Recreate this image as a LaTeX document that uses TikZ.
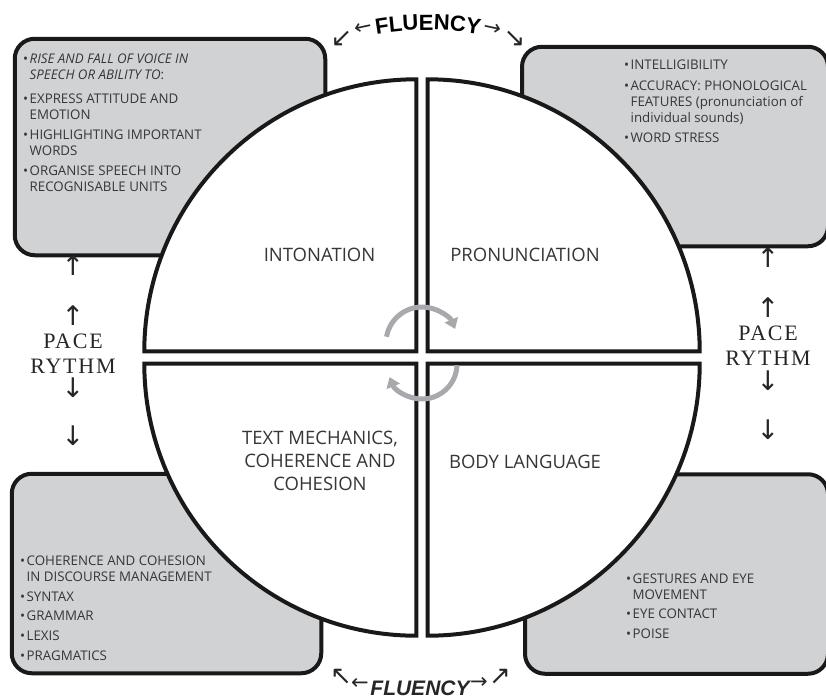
\documentclass[tikz,border=0pt]{standalone}
\usepackage{fontspec}
\setmainfont{Open Sans}
\newfontfamily\pacefont[LetterSpace=8]{Liberation Serif}
\newfontfamily\flufont{Liberation Sans}
\newfontfamily\arrfont{DejaVu Sans}
\usetikzlibrary{positioning,decorations.text,arrows.meta}
\definecolor{boxgray}{HTML}{D1D2D4}
\definecolor{arcgray}{HTML}{A7A9AC}
\definecolor{txt}{HTML}{363636}
\newcommand{\bul}{\textbullet\hspace{1.5pt}}
\newcommand{\ind}{\phantom{\textbullet}\hspace{1.5pt}}

\begin{document}
\begin{tikzpicture}[x=1pt,y=-1pt,
    infobox/.style={draw=black!90,line width=4pt,fill=boxgray,rounded corners=20pt,inner sep=0pt},
    quarter/.style={draw=black!90,line width=4pt,fill=white},
    quadlabel/.style={text=txt,font=\fontsize{18.5}{23}\selectfont,align=center,anchor=base},
    items/.style={text=txt,font=\fontsize{13.3}{16}\selectfont,align=left,anchor=base west,inner sep=0pt},
    pace/.style={text=black!85,font=\pacefont\fontsize{22}{25}\selectfont,align=center,anchor=base},
    updown/.style={text=black!85,font=\arrfont\fontsize{27}{27}\selectfont,inner sep=0pt},
    fluarrow/.style={text=black!85,font=\arrfont\fontsize{21}{21}\selectfont,inner sep=0pt},
    diagarrow/.style={text=black!85,font=\arrfont\fontsize{26}{26}\selectfont,inner sep=0pt},
    arcarrow/.style={draw=arcgray,line width=5pt,-{Triangle[width=14pt,length=10pt]}}]

  \useasboundingbox (0,0) rectangle (826,699);

  \node[infobox,minimum width=310.5pt,minimum height=216.5pt] (intobox) at (170,147) {};
  \node[infobox,minimum width=306pt,minimum height=199.5pt] (pronbox) at (675,146.5) {};
  \node[infobox,minimum width=309.5pt,minimum height=199.5pt] (mechbox) at (166.5,573.5) {};
  \node[infobox,minimum width=303pt,minimum height=199.5pt] (bodybox) at (676.5,574) {};

  \filldraw[quarter] (416.3,351.3) -- (144.3,351.3) arc (180:270:272) -- cycle;
  \filldraw[quarter] (427.7,351.3) -- (427.7,79.3) arc (270:360:272) -- cycle;
  \filldraw[quarter] (416.3,363.7) -- (144.3,363.7) arc (180:90:272) -- cycle;
  \filldraw[quarter] (427.7,363.7) -- (699.7,363.7) arc (0:90:272) -- cycle;

  \draw[arcarrow] (422,343) ++(190:36) arc (190:337:36);
  \draw[arcarrow] (422,364) ++(2:35) arc (2:158:35);

  \node[quadlabel] (intonation) at (319.5,261) {INTONATION};
  \node[quadlabel] (pronunciation) at (525,261) {PRONUNCIATION};
  \node[quadlabel] (mechanics) at (320,490) {TEXT MECHANICS,\\COHERENCE AND\\COHESION};
  \node[quadlabel] (body) at (525,468) {BODY LANGUAGE};

  \node[items] (intoitems) at (23,191) {\bul\textit{RISE AND FALL OF VOICE IN}\\
    \ind\textit{SPEECH OR ABILITY TO}:\\[8pt]
    \bul EXPRESS ATTITUDE AND\\
    \ind EMOTION\\[4pt]
    \bul HIGHLIGHTING IMPORTANT\\
    \ind WORDS\\[4pt]
    \bul ORGANISE SPEECH INTO\\
    \ind RECOGNISABLE UNITS};
  \node[items] (pronitems) at (624,142) {\bul INTELLIGIBILITY\\[5pt]
    \bul ACCURACY: PHONOLOGICAL\\
    \ind FEATURES (pronunciation of\\
    \ind individual sounds)\\[4pt]
    \bul WORD STRESS};
  \node[items] (mechitems) at (20,660) {\bul COHERENCE AND COHESION\\
    \ind IN DISCOURSE MANAGEMENT\\[4pt]
    \bul SYNTAX\\[3pt]
    \bul GRAMMAR\\[4pt]
    \bul LEXIS\\[4pt]
    \bul PRAGMATICS};
  \node[items] (bodyitems) at (626,638) {\bul GESTURES AND EYE\\
    \ind MOVEMENT\\[3pt]
    \bul EYE CONTACT\\[4pt]
    \bul POISE};

  \node[pace] (paceleft) at (73,373) {PACE\\RYTHM};
  \node[pace] (paceright) at (768,365) {PACE\\RYTHM};
  \node[updown] (upleftA) at (73,266) {↑};
  \node[updown] (upleftB) at (73,316) {↑};
  \node[updown] (downleftA) at (73,388) {↓};
  \node[updown] (downleftB) at (73,436) {↓};
  \node[updown] (uprightA) at (768,258) {↑};
  \node[updown] (uprightB) at (768,308) {↑};
  \node[updown] (downrightA) at (768,381) {↓};
  \node[updown] (downrightB) at (768,430) {↓};

  \path[decorate,decoration={text along path,text align=center,
      text={|\flufont\bfseries\fontsize{22}{22}\selectfont|FLUENCY}}]
    (428,330) ++(255:300) arc (255:285:300);
  \node[fluarrow,rotate=12] (fluleftA) at (363,28) {←};
  \node[fluarrow,rotate=-12] (flurightA) at (492,29) {→};
  \node[diagarrow] (fluleftB) at (341.5,38.5) {↙};
  \node[diagarrow] (flurightB) at (514.5,38.5) {↘};

  \node[text=black!85,font=\flufont\bfseries\itshape\fontsize{21}{21}\selectfont,anchor=base] (flubottom) at (420,695) {FLUENCY};
  \node[fluarrow] (fluleftC) at (360,684) {←};
  \node[fluarrow] (flurightC) at (479,683) {→};
  \node[diagarrow] (fluleftD) at (341,677) {↖};
  \node[diagarrow] (flurightD) at (500,677) {↗};
\end{tikzpicture}
\end{document}
